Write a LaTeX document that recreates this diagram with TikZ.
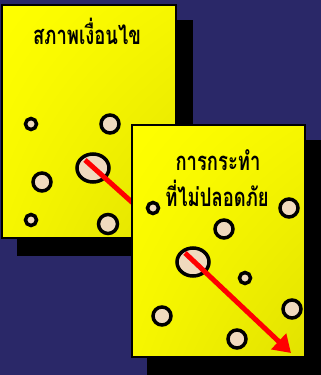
\documentclass[tikz,border=0pt]{standalone}
\usepackage{fontspec}
\newfontfamily\thaifont[Script=Thai]{Loma}
\usetikzlibrary{arrows.meta,shadings}
\definecolor{navybg}{RGB}{42,40,104}
\definecolor{cardhi}{RGB}{255,255,0}
\definecolor{cardlo}{RGB}{226,226,0}
\definecolor{holefill}{RGB}{240,218,190}
\definecolor{rayred}{RGB}{255,0,0}
\newcommand{\tallthai}[1]{\scalebox{0.97}[1.35]{#1}}
\tikzset{
  card/.style={draw=black,line width=2.5pt,upper left=cardhi,upper right=cardhi!70!cardlo,
    lower left=cardhi!70!cardlo,lower right=cardlo},
  cardshadow/.style={fill=black},
  hole/.style={draw=black,line width=3.5pt,fill=holefill},
  ray/.style={draw=rayred,line width=5pt},
  cardtitle/.style={font=\thaifont\bfseries\fontsize{19}{22}\selectfont,inner sep=0pt}
}
\begin{document}
\begin{tikzpicture}[x=1pt,y=-1pt]
\useasboundingbox (0,0) rectangle (321,375);
\fill[navybg] (0,0) rectangle (321,375);
% left card: conditions
\fill[cardshadow] (17,20) rectangle (193,256);
\shadedraw[card] (2,5) rectangle (176,238);
\node[cardtitle] (cond) at (87,31) {\tallthai{สภาพเงื่อนไข}};
\draw[hole] (31,124) circle (5.5pt);
\draw[hole] (110,124) circle (9pt);
\draw[hole] (93,168) ellipse (16pt and 14pt);
\draw[hole] (42,182) circle (9pt);
\draw[hole] (31,220) circle (5.5pt);
\draw[hole] (108,224) circle (9.5pt);
\coordinate (rayA) at (85,160);
\coordinate (rayB) at (134,204);
\draw[ray] (rayA) -- (rayB);
% right card: unsafe acts
\fill[cardshadow] (147,140) rectangle (321,375);
\shadedraw[card] (132,125) rectangle (305,357);
\node[cardtitle] (act1) at (218,160) {\tallthai{การกระทำ}};
\node[cardtitle] (act2) at (217,193) {\tallthai{ที่ไม่ปลอดภัย}};
\draw[hole] (153,208) circle (5.5pt);
\draw[hole] (289,208) circle (9pt);
\draw[hole] (224,229) circle (9pt);
\draw[hole] (193,262) ellipse (16pt and 14pt);
\draw[hole] (245,278) circle (5.5pt);
\draw[hole] (162,316) circle (9pt);
\draw[hole] (292,309) circle (9pt);
\draw[hole] (237,339) circle (9pt);
\coordinate (rayC) at (185,253);
\coordinate (rayD) at (291,353);
\draw[ray,-{Triangle[length=17pt,width=21pt]}] (rayC) -- (rayD);
\end{tikzpicture}
\end{document}
